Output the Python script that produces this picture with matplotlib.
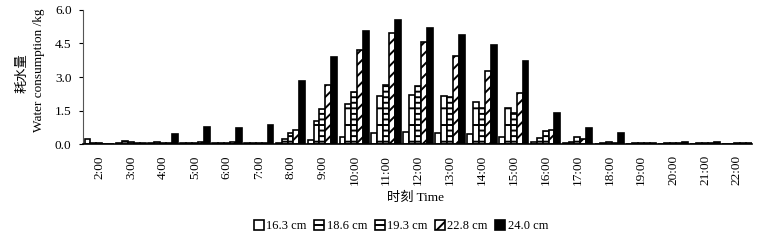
import numpy as np
import matplotlib
matplotlib.use("Agg")
import matplotlib.pyplot as plt
from matplotlib.patches import Patch

# hourly water consumption (kg) for five depths
HOURS = [f"{h}:00" for h in range(2, 23)]
SERIES = ["16.3 cm", "18.6 cm", "19.3 cm", "22.8 cm", "24.0 cm"]

d163 = [0.22, 0.03, 0.03, 0.03, 0.03, 0.03, 0.05, 0.18, 0.30, 0.50, 0.55,
        0.50, 0.45, 0.30, 0.10, 0.06, 0.02, 0.02, 0.02, 0.02, 0.02]
d186 = [0.03, 0.12, 0.10, 0.05, 0.04, 0.03, 0.24, 1.03, 1.80, 2.15, 2.20,
        2.15, 1.90, 1.60, 0.28, 0.10, 0.03, 0.05, 0.04, 0.03, 0.02]
d193 = [0.03, 0.08, 0.05, 0.04, 0.03, 0.03, 0.50, 1.57, 2.35, 2.65, 2.60,
        2.10, 1.60, 1.37, 0.60, 0.30, 0.10, 0.07, 0.05, 0.04, 0.03]
d228 = [0.02, 0.05, 0.04, 0.10, 0.08, 0.05, 0.65, 2.64, 4.20, 4.95, 4.57,
        3.95, 3.25, 2.30, 0.65, 0.21, 0.05, 0.03, 0.06, 0.04, 0.03]
d240 = [0.02, 0.03, 0.45, 0.78, 0.74, 0.85, 2.83, 3.90, 5.05, 5.55, 5.20,
        4.90, 4.45, 3.70, 1.37, 0.70, 0.48, 0.06, 0.08, 0.10, 0.05]

YTICKS = [0.0, 1.5, 3.0, 4.5, 6.0]

plt.rcParams["font.family"] = ["Liberation Serif", "Noto Sans CJK SC"]
plt.rcParams["hatch.linewidth"] = 1.4

styles = [
    dict(facecolor="white", hatch=None),
    dict(facecolor="white", hatch="-"),
    dict(facecolor="white", hatch="---"),
    dict(facecolor="white", hatch="///"),
    dict(facecolor="black", hatch=None),
]

fig = plt.figure(figsize=(7.73, 2.43), dpi=100)
ax = fig.add_axes([0.107, 0.407, 0.866, 0.552])

x = np.arange(len(HOURS))
w = 0.185
all_data = [d163, d186, d193, d228, d240]
for i, (vals, st) in enumerate(zip(all_data, styles)):
    ax.bar(x + (i - 2) * w, vals, width=w, edgecolor="black", linewidth=1.2,
           **st)

ax.set_xlim(-0.52, 20.48)
ax.set_ylim(0, 6.0)
ax.set_yticks(YTICKS)
ax.set_yticklabels([f"{v:.1f}" for v in YTICKS], fontsize=9.5)
ax.set_xticks(x)
ax.set_xticklabels(HOURS, rotation=90, fontsize=9.5)
ax.tick_params(axis="x", length=0, pad=8)
ax.tick_params(axis="y", length=3, direction="out", pad=5)
for s in ["top", "right"]:
    ax.spines[s].set_visible(False)
ax.spines["left"].set_color("#555555")
ax.spines["bottom"].set_linewidth(1.2)

fig.text(23 / 773, 1 - 73 / 243, "耗水量", rotation=90, fontsize=9.5,
         ha="center", va="center")
fig.text(39 / 773, 1 - 70 / 243, "Water consumption /kg", rotation=90,
         fontsize=9.5, ha="center", va="center")
fig.text(415 / 773, 1 - 198 / 243, "时刻 Time", fontsize=9.5,
         ha="center", va="center")

handles = [Patch(edgecolor="black", linewidth=1.2, **st) for st in styles]
fig.legend(handles, SERIES, loc="center", bbox_to_anchor=(401 / 773, 1 - 226 / 243),
           ncol=5, frameon=False, fontsize=9, handlelength=0.8, handleheight=0.8,
           handletextpad=0.2, columnspacing=0.6, borderpad=0)

fig.savefig("out.png", dpi=100)
